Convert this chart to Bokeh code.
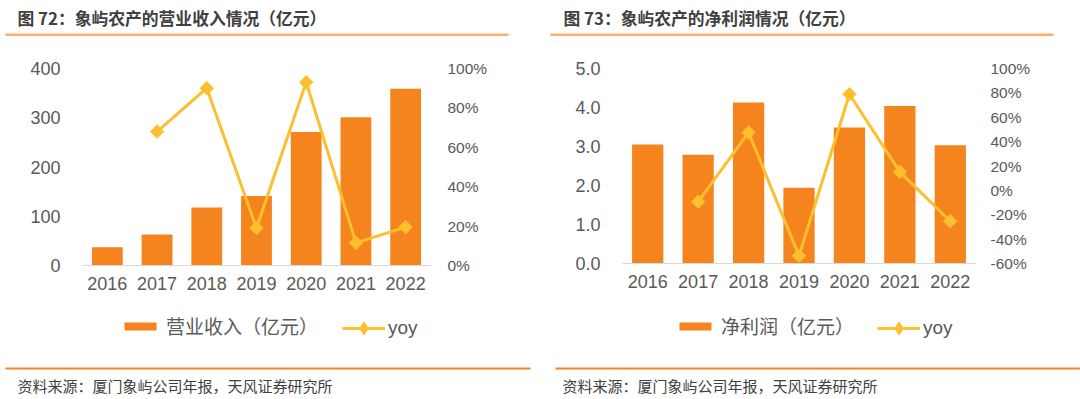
import math
from bokeh.plotting import figure
from bokeh.models import (Range1d, LinearAxis, FixedTicker, NumeralTickFormatter,
                          PrintfTickFormatter, FactorRange, ColumnDataSource, Label,
                          BoxAnnotation, Legend, LegendItem)
from bokeh.layouts import row, column
from bokeh.embed import file_html
from bokeh.resources import INLINE

# ---------------- data ----------------
years = ["2016", "2017", "2018", "2019", "2020", "2021", "2022"]
revenue = [37, 63, 118, 141, 271, 301, 359]                 # 营业收入（亿元）
revenue_yoy = [None, 68.0, 90.0, 19.0, 93.0, 11.5, 19.5]     # %
profit = [3.05, 2.79, 4.13, 1.94, 3.49, 4.04, 3.03]          # 净利润（亿元）
profit_yoy = [None, -9.4, 47.5, -53.7, 78.9, 15.2, -25.3]    # %

left_ticks_rev = [0, 100, 200, 300, 400]
right_ticks_rev = [0, 20, 40, 60, 80, 100]
left_ticks_pro = [0, 1, 2, 3, 4, 5]
right_ticks_pro = [-60, -40, -20, 0, 20, 40, 60, 80, 100]

titles = ["图 72：象屿农产的营业收入情况（亿元）", "图 73：象屿农产的净利润情况（亿元）"]
bar_names = ["营业收入（亿元）", "净利润（亿元）"]
source_text = "资料来源：厦门象屿公司年报，天风证券研究所"

BAR = "#F5841F"
LINE = "#FDBF2D"
TXT = "#595959"
CJK = "Noto Sans CJK SC"
NUM = "Liberation Sans"

PW = 540          # panel width
HEAD_H = 45
CHART_H = 255
FOOT_H = 99


def blank_fig(h, x_range=None, y_range=None):
    f = figure(width=PW, height=h,
               x_range=x_range if x_range is not None else Range1d(0, 1),
               y_range=y_range if y_range is not None else Range1d(0, 1),
               output_backend="svg", toolbar_location=None, frame_align=False,
               min_border_left=0, min_border_right=0, min_border_top=0,
               min_border_bottom=0, x_axis_location=None, y_axis_location=None)
    f.outline_line_color = None
    f.xgrid.visible = False
    f.ygrid.visible = False
    return f


def hbox(f, x0, x1, ytop, ybot, color):
    f.add_layout(BoxAnnotation(left=x0, right=x1, top=ytop, bottom=ybot,
                               left_units="screen", right_units="screen",
                               top_units="screen", bottom_units="screen",
                               fill_color=color, fill_alpha=1, line_color=None))


def make_panel(vals, yoy, lrange, lticks, lfmt, rrange, rticks, title, bar_name,
               bl, br, bt, bb, title_x, tline, fline, foot_x, leg1_x, leg2_x, rstand):
    # ---- header ----
    head = blank_fig(HEAD_H)
    head.add_layout(Label(x=title_x, y=HEAD_H - 17, x_units="screen", y_units="screen",
                          text=title, text_font=CJK, text_font_size="16.8px",
                          text_font_style="bold", text_color="#404040",
                          text_baseline="middle", text_align="left"))
    hbox(head, tline[0], tline[1], HEAD_H - 33, HEAD_H - 35.5, "#FBAE6E")

    # ---- chart ----
    xr = FactorRange(factors=years, range_padding=0)
    p = figure(x_range=xr, y_range=Range1d(*lrange), width=PW, height=CHART_H,
               output_backend="svg", toolbar_location=None, frame_align=False,
               min_border_left=bl, min_border_right=br, min_border_top=bt,
               min_border_bottom=bb)
    p.outline_line_color = None
    p.xgrid.visible = False
    p.ygrid.visible = False

    ya = p.yaxis[0]
    ya.ticker = FixedTicker(ticks=lticks)
    ya.formatter = lfmt
    ya.axis_line_color = None
    ya.major_tick_line_color = None
    ya.minor_tick_line_color = None
    ya.major_tick_out = 0
    ya.major_tick_in = 0
    ya.major_label_standoff = 22
    ya.major_label_text_font = NUM
    ya.major_label_text_font_size = "18px"
    ya.major_label_text_color = TXT

    xa = p.xaxis[0]
    xa.axis_line_color = "#D9D9D9"
    xa.axis_line_width = 1
    xa.major_tick_line_color = None
    xa.minor_tick_line_color = None
    xa.major_tick_out = 0
    xa.major_tick_in = 0
    xa.major_label_standoff = 11
    xa.major_label_text_font = NUM
    xa.major_label_text_font_size = "18px"
    xa.major_label_text_color = TXT

    p.extra_y_ranges = {"yoy": Range1d(*rrange)}
    ra = LinearAxis(y_range_name="yoy", ticker=FixedTicker(ticks=rticks),
                    formatter=PrintfTickFormatter(format="%d%%"))
    ra.axis_line_color = None
    ra.major_tick_line_color = None
    ra.minor_tick_line_color = None
    ra.major_tick_out = 0
    ra.major_tick_in = 0
    ra.major_label_standoff = rstand
    ra.major_label_text_font = NUM
    ra.major_label_text_font_size = "15.5px"
    ra.major_label_text_color = TXT
    p.add_layout(ra, "right")

    src = ColumnDataSource(data=dict(x=years, v=vals))
    p.vbar(x="x", top="v", width=0.62, source=src, fill_color=BAR, line_color=None)

    lsrc = ColumnDataSource(data=dict(x=years[1:], y=yoy[1:]))
    p.line(x="x", y="y", source=lsrc, y_range_name="yoy", line_color=LINE, line_width=3)
    p.scatter(x="x", y="y", source=lsrc, y_range_name="yoy", marker="square",
              angle=math.pi / 4, size=9.5, fill_color=LINE, line_color=LINE)

    # ---- legend + footer (legend keys are hidden copies of the series) ----
    foot = blank_fig(FOOT_H, x_range=FactorRange(factors=years, range_padding=0),
                     y_range=Range1d(*lrange))
    foot.extra_y_ranges = {"yoy": Range1d(*rrange)}
    bar_key = foot.vbar(x="x", top="v", width=0.62, source=src, fill_color=BAR,
                        line_color=None, visible=False)
    line_key = foot.line(x="x", y="y", source=lsrc, y_range_name="yoy",
                         line_color=LINE, line_width=3, visible=False)
    dia_key = foot.scatter(x="x", y="y", source=lsrc, y_range_name="yoy",
                           marker="diamond", fill_color=LINE, line_color=LINE,
                           visible=False)
    legend_y = FOOT_H - 28
    common = dict(orientation="horizontal", padding=0, margin=0, spacing=0,
                  border_line_color=None, background_fill_alpha=0,
                  inactive_fill_alpha=0, label_text_font_size="19px",
                  label_text_color=TXT)
    leg1 = Legend(items=[LegendItem(label=bar_name, renderers=[bar_key])],
                  location=(leg1_x, legend_y - 11),
                  glyph_width=40, glyph_height=10, label_height=22,
                  label_standoff=6, label_text_font=CJK, **common)
    leg2 = Legend(items=[LegendItem(label="yoy", renderers=[line_key, dia_key])],
                  location=(leg2_x, legend_y - 16),
                  glyph_width=43, glyph_height=32, label_height=22,
                  label_standoff=3, label_text_font=NUM, **common)
    foot.add_layout(leg1)
    foot.add_layout(leg2)
    hbox(foot, fline[0], fline[1], FOOT_H - 67, FOOT_H - 69, "#F5841F")
    foot.add_layout(Label(x=foot_x, y=FOOT_H - 85, x_units="screen", y_units="screen",
                          text=source_text, text_font=CJK, text_font_size="15px",
                          text_color="#404040", text_baseline="middle",
                          text_align="left"))
    return column(head, p, foot, spacing=0)


left = make_panel(revenue, revenue_yoy, (0, 400), left_ticks_rev, NumeralTickFormatter(format="0"),
                  (0, 100), right_ticks_rev, titles[0], bar_names[0],
                  bl=82, br=110, bt=23, bb=35, title_x=17,
                  tline=(5, 508), fline=(5, 530), foot_x=17, leg1_x=120, leg2_x=342,
                  rstand=17)
right = make_panel(profit, profit_yoy, (0, 5), left_ticks_pro, NumeralTickFormatter(format="0.0"),
                   (-60, 100), right_ticks_pro, titles[1], bar_names[1],
                   bl=82, br=105, bt=23, bb=37, title_x=23,
                   tline=(10, 513), fline=(15, 540), foot_x=22, leg1_x=135, leg2_x=337,
                   rstand=15)

layout = row(left, right, spacing=0)
open("out.html", "w").write(file_html(layout, INLINE))
